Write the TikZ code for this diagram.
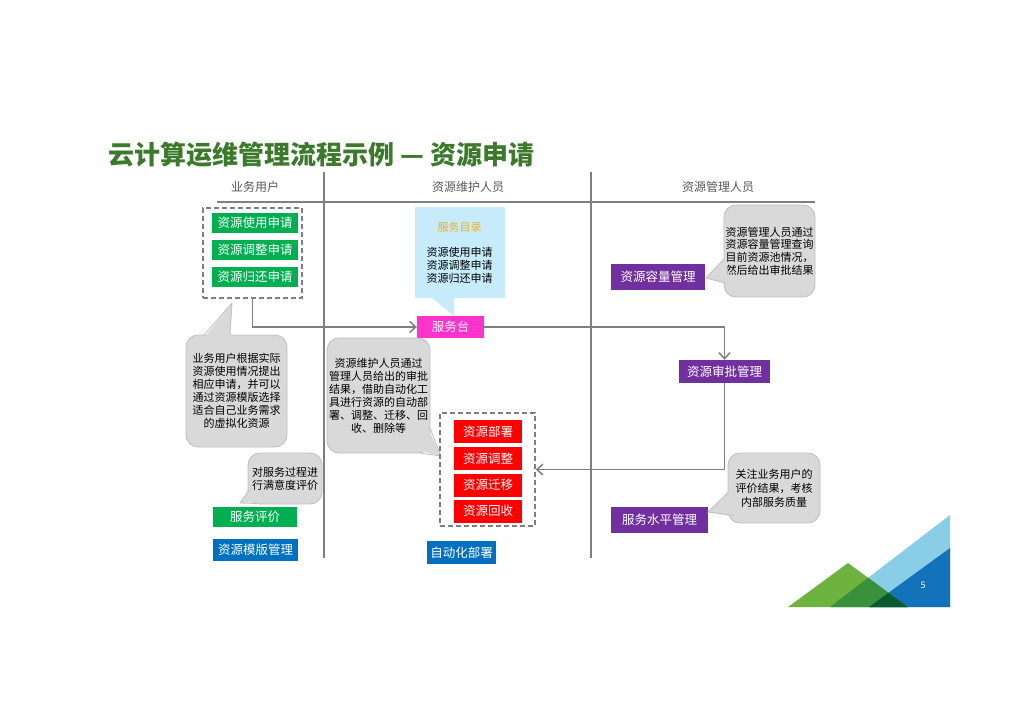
\documentclass[tikz,border=0pt]{standalone}
\usepackage{fontspec}
\setmainfont{Noto Sans CJK SC}
\usetikzlibrary{arrows.meta}
\definecolor{titlegreen}{HTML}{3C7A2B}
\definecolor{boxgreen}{HTML}{00B050}
\definecolor{boxblue}{HTML}{0070C0}
\definecolor{boxred}{HTML}{FF0000}
\definecolor{boxpink}{HTML}{FF33CC}
\definecolor{boxpurple}{HTML}{7030A0}
\definecolor{notefill}{HTML}{D9D9D9}
\definecolor{noteline}{HTML}{BFBFBF}
\definecolor{catfill}{HTML}{C6EBFA}
\definecolor{cattitle}{HTML}{F0B020}
\definecolor{laneline}{HTML}{7F7F7F}
\definecolor{decgreen}{HTML}{6FB33F}
\definecolor{decmid}{HTML}{3A913B}
\definecolor{decdark}{HTML}{0B5A2F}
\definecolor{declight}{HTML}{8ACDE6}
\definecolor{decblue}{HTML}{1273BB}
\tikzset{
  box/.style={inner sep=0pt,text=white,font=\fontsize{12.5}{14}\selectfont},
  group/.style={draw=laneline,line width=1.6pt,dash pattern=on 5pt off 3pt,inner sep=0pt},
  flow/.style={draw=laneline,line width=1.5pt,-{Straight Barb[length=6pt,width=11pt]}},
}

\begin{document}
\begin{tikzpicture}[x=1pt,y=-1pt,
   bubble/.style={draw=noteline,fill=notefill,line width=0.8pt,rounded corners=12pt,
     inner sep=0pt,align=center,font=\fontsize{11}{13}\selectfont},
   tip/.style={fill=notefill},
   tipline/.style={draw=noteline,line width=0.8pt}]
  \useasboundingbox[fill=white] (0,0) rectangle (1024,724);
  \node[anchor=west,text=titlegreen,font=\fontsize{26}{29}\bfseries] (title) at (105,155)
    {云计算运维管理流程示例 — 资源申请};
  % lanes
  \draw[laneline,line width=1.5pt] (217,202) -- (815,202);
  \draw[laneline,line width=1.5pt] (324,172) -- (324,558);
  \draw[laneline,line width=1.5pt] (591,172) -- (591,558);
  \node[text=black!65,font=\fontsize{12}{14}\selectfont] (laneUser) at (255,187) {业务用户};
  \node[text=black!65,font=\fontsize{12}{14}\selectfont] (laneMaint) at (468,187) {资源维护人员};
  \node[text=black!65,font=\fontsize{12}{14}\selectfont] (laneAdmin) at (718,187) {资源管理人员};

  % user lane
  \node[group,minimum width=99pt,minimum height=90pt] (reqGroup) at (252.5,253) {};
  \node[box,fill=boxgreen,minimum width=86pt,minimum height=20pt] (reqUse) at (255,223) {资源使用申请};
  \node[box,fill=boxgreen,minimum width=86pt,minimum height=20pt] (reqAdjust) at (255,250) {资源调整申请};
  \node[box,fill=boxgreen,minimum width=86pt,minimum height=20pt] (reqReturn) at (255,277) {资源归还申请};
  \node[bubble,minimum width=101pt,minimum height=112pt] (userNote) at (236.5,391)
    {业务用户根据实际\\资源使用情况提出\\相应申请，并可以\\通过资源模版选择\\适合自己业务需求\\的虚拟化资源};
  \fill[tip] (203,339) -- (232,303) -- (230,339) -- cycle;
  \draw[tipline] (204,335) -- (232,303) -- (230,335);
  \node[bubble,minimum width=74pt,minimum height=51pt] (evalNote) at (285,478.5)
    {对服务过程进\\行满意度评价};
  \fill[tip] (252,486) -- (240,503) -- (259,502) -- cycle;
  \draw[tipline] (249,490) -- (240,503) -- (256,503.5);
  \node[box,fill=boxgreen,minimum width=84pt,minimum height=20pt] (evalBox) at (255,517) {服务评价};
  \node[box,fill=boxblue,minimum width=85pt,minimum height=22pt] (tmplBox) at (255.5,550) {资源模版管理};

  % maintenance lane
  \node[fill=catfill,minimum width=90pt,minimum height=91pt,inner sep=0pt,align=center,
    font=\fontsize{11}{13}\selectfont] (catalog) at (459.5,252.5)
    {{\color{cattitle}服务目录}\\[12pt]资源使用申请\\资源调整申请\\资源归还申请};
  \fill[catfill] (431,297) -- (454,316) -- (454,297) -- cycle;
  \node[box,fill=boxpink,minimum width=67pt,minimum height=22pt] (desk) at (450.5,327) {服务台};
  \node[bubble,minimum width=103pt,minimum height=115pt] (maintNote) at (378.5,395.5)
    {资源维护人员通过\\管理人员给出的审批\\结果，借助自动化工\\具进行资源的自动部\\署、调整、迁移、回\\收、删除等};
  \fill[tip] (426,424) -- (441,456) -- (416,450) -- cycle;
  \draw[tipline] (430,428) -- (441,456) -- (420,453);
  \node[group,minimum width=95pt,minimum height=113pt] (deployGroup) at (487.5,469.5) {};
  \node[box,fill=boxred,minimum width=68pt,minimum height=23pt] (deploy) at (488,431.5) {资源部署};
  \node[box,fill=boxred,minimum width=68pt,minimum height=23pt] (adjust) at (488,458.5) {资源调整};
  \node[box,fill=boxred,minimum width=68pt,minimum height=23pt] (migrate) at (488,485) {资源迁移};
  \node[box,fill=boxred,minimum width=68pt,minimum height=23pt] (reclaim) at (488,511) {资源回收};
  \node[box,fill=boxblue,minimum width=69pt,minimum height=23pt] (autoBox) at (461.5,552.5) {自动化部署};

  % admin lane
  \node[box,fill=boxpurple,minimum width=94pt,minimum height=26pt] (capacity) at (658,277) {资源容量管理};
  \node[bubble,minimum width=91pt,minimum height=92pt,font=\fontsize{11}{12.7}\selectfont] (capNote) at (769.5,251)
    {资源管理人员通过\\资源容量管理查询\\目前资源池情况，\\然后给出审批结果};
  \fill[tip] (727,256) -- (706,278) -- (728,284) -- cycle;
  \draw[tipline] (724,259) -- (706,278) -- (725,283);
  \node[box,fill=boxpurple,minimum width=91pt,minimum height=23pt] (approve) at (724.5,371.5) {资源审批管理};
  \node[box,fill=boxpurple,minimum width=97pt,minimum height=26pt] (slaBox) at (659.5,520) {服务水平管理};
  \node[bubble,minimum width=92pt,minimum height=70pt,font=\fontsize{11}{14}\selectfont] (slaNote) at (774,488)
    {关注业务用户的\\评价结果，考核\\内部服务质量};
  \fill[tip] (731,490) -- (708,512) -- (736,517) -- cycle;
  \draw[tipline] (728.5,492) -- (708,512) -- (734,515.5);

  % flow
  \draw[flow] (reqGroup.south) |- (desk.west);
  \draw[flow] (desk.east) -| (approve.north);
  \draw[flow] (approve.south) |- (deployGroup.east);

  % corner decoration
  \fill[declight] (830,607) -- (950,515) -- (950,607) -- cycle;
  \fill[decblue] (869,607) -- (950,548) -- (950,607) -- cycle;
  \fill[decgreen] (788,607) -- (848,563) -- (908,607) -- cycle;
  \begin{scope}
    \clip (788,607) -- (848,563) -- (908,607) -- cycle;
    \fill[decmid] (830,607) -- (950,515) -- (950,607) -- cycle;
    \fill[decdark] (869,607) -- (950,548) -- (950,607) -- cycle;
  \end{scope}
  \node[text=white,font=\fontsize{9}{10}\selectfont] (pageNo) at (923,585) {5};
\end{tikzpicture}
\end{document}
